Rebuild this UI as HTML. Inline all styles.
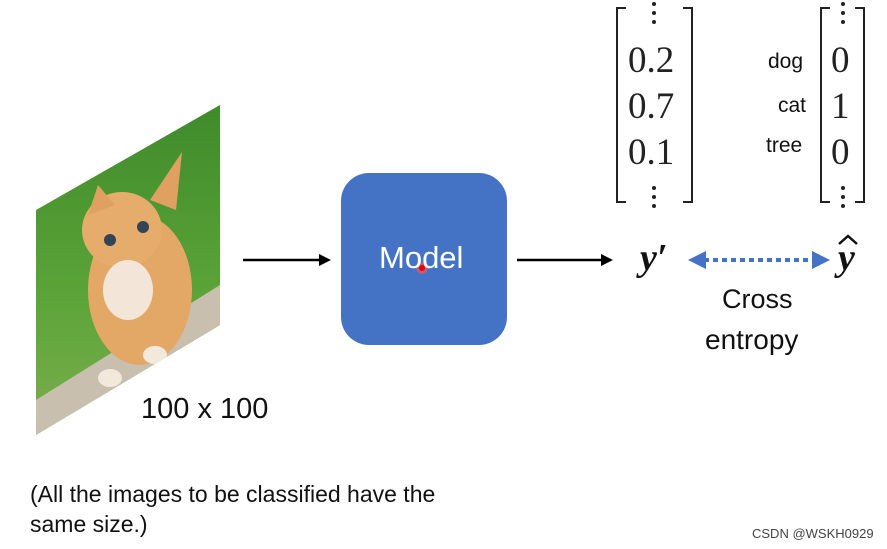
<!DOCTYPE html>
<html><head><meta charset="utf-8"><style>
body{margin:0;width:887px;height:549px;background:#fff;overflow:hidden;position:relative;font-family:"Liberation Sans",sans-serif}
.t{position:absolute;white-space:nowrap;color:#111}
.m{font-family:"Liberation Serif",serif;font-size:37px;color:#222}
</style></head><body>
<svg width="887" height="549" style="position:absolute;left:0;top:0">
<defs>
<clipPath id="pc"><polygon points="36,210 220,105 220,325 36,435"/></clipPath>
<linearGradient id="g" x1="0" y1="0" x2="0" y2="1"><stop offset="0" stop-color="#3e8a2a"/><stop offset="0.6" stop-color="#5da53a"/><stop offset="1" stop-color="#7fae4e"/></linearGradient>
</defs>
<g clip-path="url(#pc)">
<rect x="30" y="100" width="200" height="340" fill="url(#g)"/>
<polygon points="36,400 220,285 220,330 36,440" fill="#c9bfae"/>
<ellipse cx="140" cy="290" rx="52" ry="75" fill="#e3a866"/>
<ellipse cx="122" cy="230" rx="40" ry="38" fill="#e6ac6c"/>
<ellipse cx="128" cy="290" rx="25" ry="30" fill="#f3e6d8"/>
<polygon points="88,215 98,185 115,205" fill="#e0a062"/>
<polygon points="150,200 182,152 176,210" fill="#e0a062"/>
<circle cx="110" cy="240" r="6" fill="#345"/><circle cx="143" cy="227" r="6" fill="#345"/>
<ellipse cx="110" cy="378" rx="12" ry="9" fill="#f3e8dc"/><ellipse cx="155" cy="355" rx="12" ry="9" fill="#f3e8dc"/>
</g>
<rect x="341" y="173" width="166" height="172" rx="28" fill="#4472C4"/>
<circle cx="422" cy="268" r="6" fill="#f55" opacity="0.6"/><circle cx="422" cy="268" r="3" fill="#e00"/>
<g stroke="#000" stroke-width="2.5" fill="#000">
<line x1="243" y1="260" x2="322" y2="260"/><polygon points="331,260 319,254 319,266" stroke="none"/>
<line x1="517" y1="260" x2="603" y2="260"/><polygon points="613,260 601,254 601,266" stroke="none"/>
</g>
<line x1="704" y1="260" x2="814" y2="260" stroke="#4472C4" stroke-width="4" stroke-dasharray="5,4"/>
<polygon points="688,260 706,251 706,269" fill="#4472C4"/>
<polygon points="830,260 812,251 812,269" fill="#4472C4"/>
<polyline points="839,244 848,236 857,244" fill="none" stroke="#111" stroke-width="2.5"/>
<g fill="none" stroke="#222" stroke-width="2">
<polyline points="626,8 617,8 617,202 626,202"/>
<polyline points="683,8 692,8 692,202 683,202"/>
<polyline points="830,8 821,8 821,202 830,202"/>
<polyline points="855,8 864,8 864,202 855,202"/>
</g>
<g fill="#222">
<circle cx="654" cy="4" r="2"/><circle cx="654" cy="13" r="2"/><circle cx="654" cy="22" r="2"/>
<circle cx="654" cy="188" r="2"/><circle cx="654" cy="197" r="2"/><circle cx="654" cy="206" r="2"/>
<circle cx="843" cy="4" r="2"/><circle cx="843" cy="13" r="2"/><circle cx="843" cy="22" r="2"/>
<circle cx="843" cy="188" r="2"/><circle cx="843" cy="197" r="2"/><circle cx="843" cy="206" r="2"/>
</g>
</svg>
<div class="t" style="left:379px;top:240px;font-size:31px;color:#fff">Model</div>
<div class="t m" style="left:628px;top:39px">0.2</div>
<div class="t m" style="left:628px;top:85px">0.7</div>
<div class="t m" style="left:628px;top:131px">0.1</div>
<div class="t m" style="left:831px;top:39px">0</div>
<div class="t m" style="left:831px;top:85px">1</div>
<div class="t m" style="left:831px;top:131px">0</div>
<div class="t" style="left:768px;top:50px;font-size:21px">dog</div>
<div class="t" style="left:778px;top:94px;font-size:21px">cat</div>
<div class="t" style="left:766px;top:134px;font-size:21px">tree</div>
<div class="t" style="left:640px;top:236px;font-size:38px;font-family:'Liberation Serif',serif;font-weight:bold;font-style:italic">y′</div>
<div class="t" style="left:838px;top:236px;font-size:38px;font-family:'Liberation Serif',serif;font-weight:bold;font-style:italic">y</div>
<div class="t" style="left:722px;top:284px;font-size:27px">Cross</div>
<div class="t" style="left:705px;top:324px;font-size:28px">entropy</div>
<div class="t" style="left:141px;top:393px;font-size:29px">100 x 100</div>
<div class="t" style="left:30px;top:479px;font-size:23px;line-height:30px">(All the images to be classified have the<br>same size.)</div>
<div class="t" style="left:752px;top:526px;font-size:13px;color:#444">CSDN @WSKH0929</div>
</body></html>
